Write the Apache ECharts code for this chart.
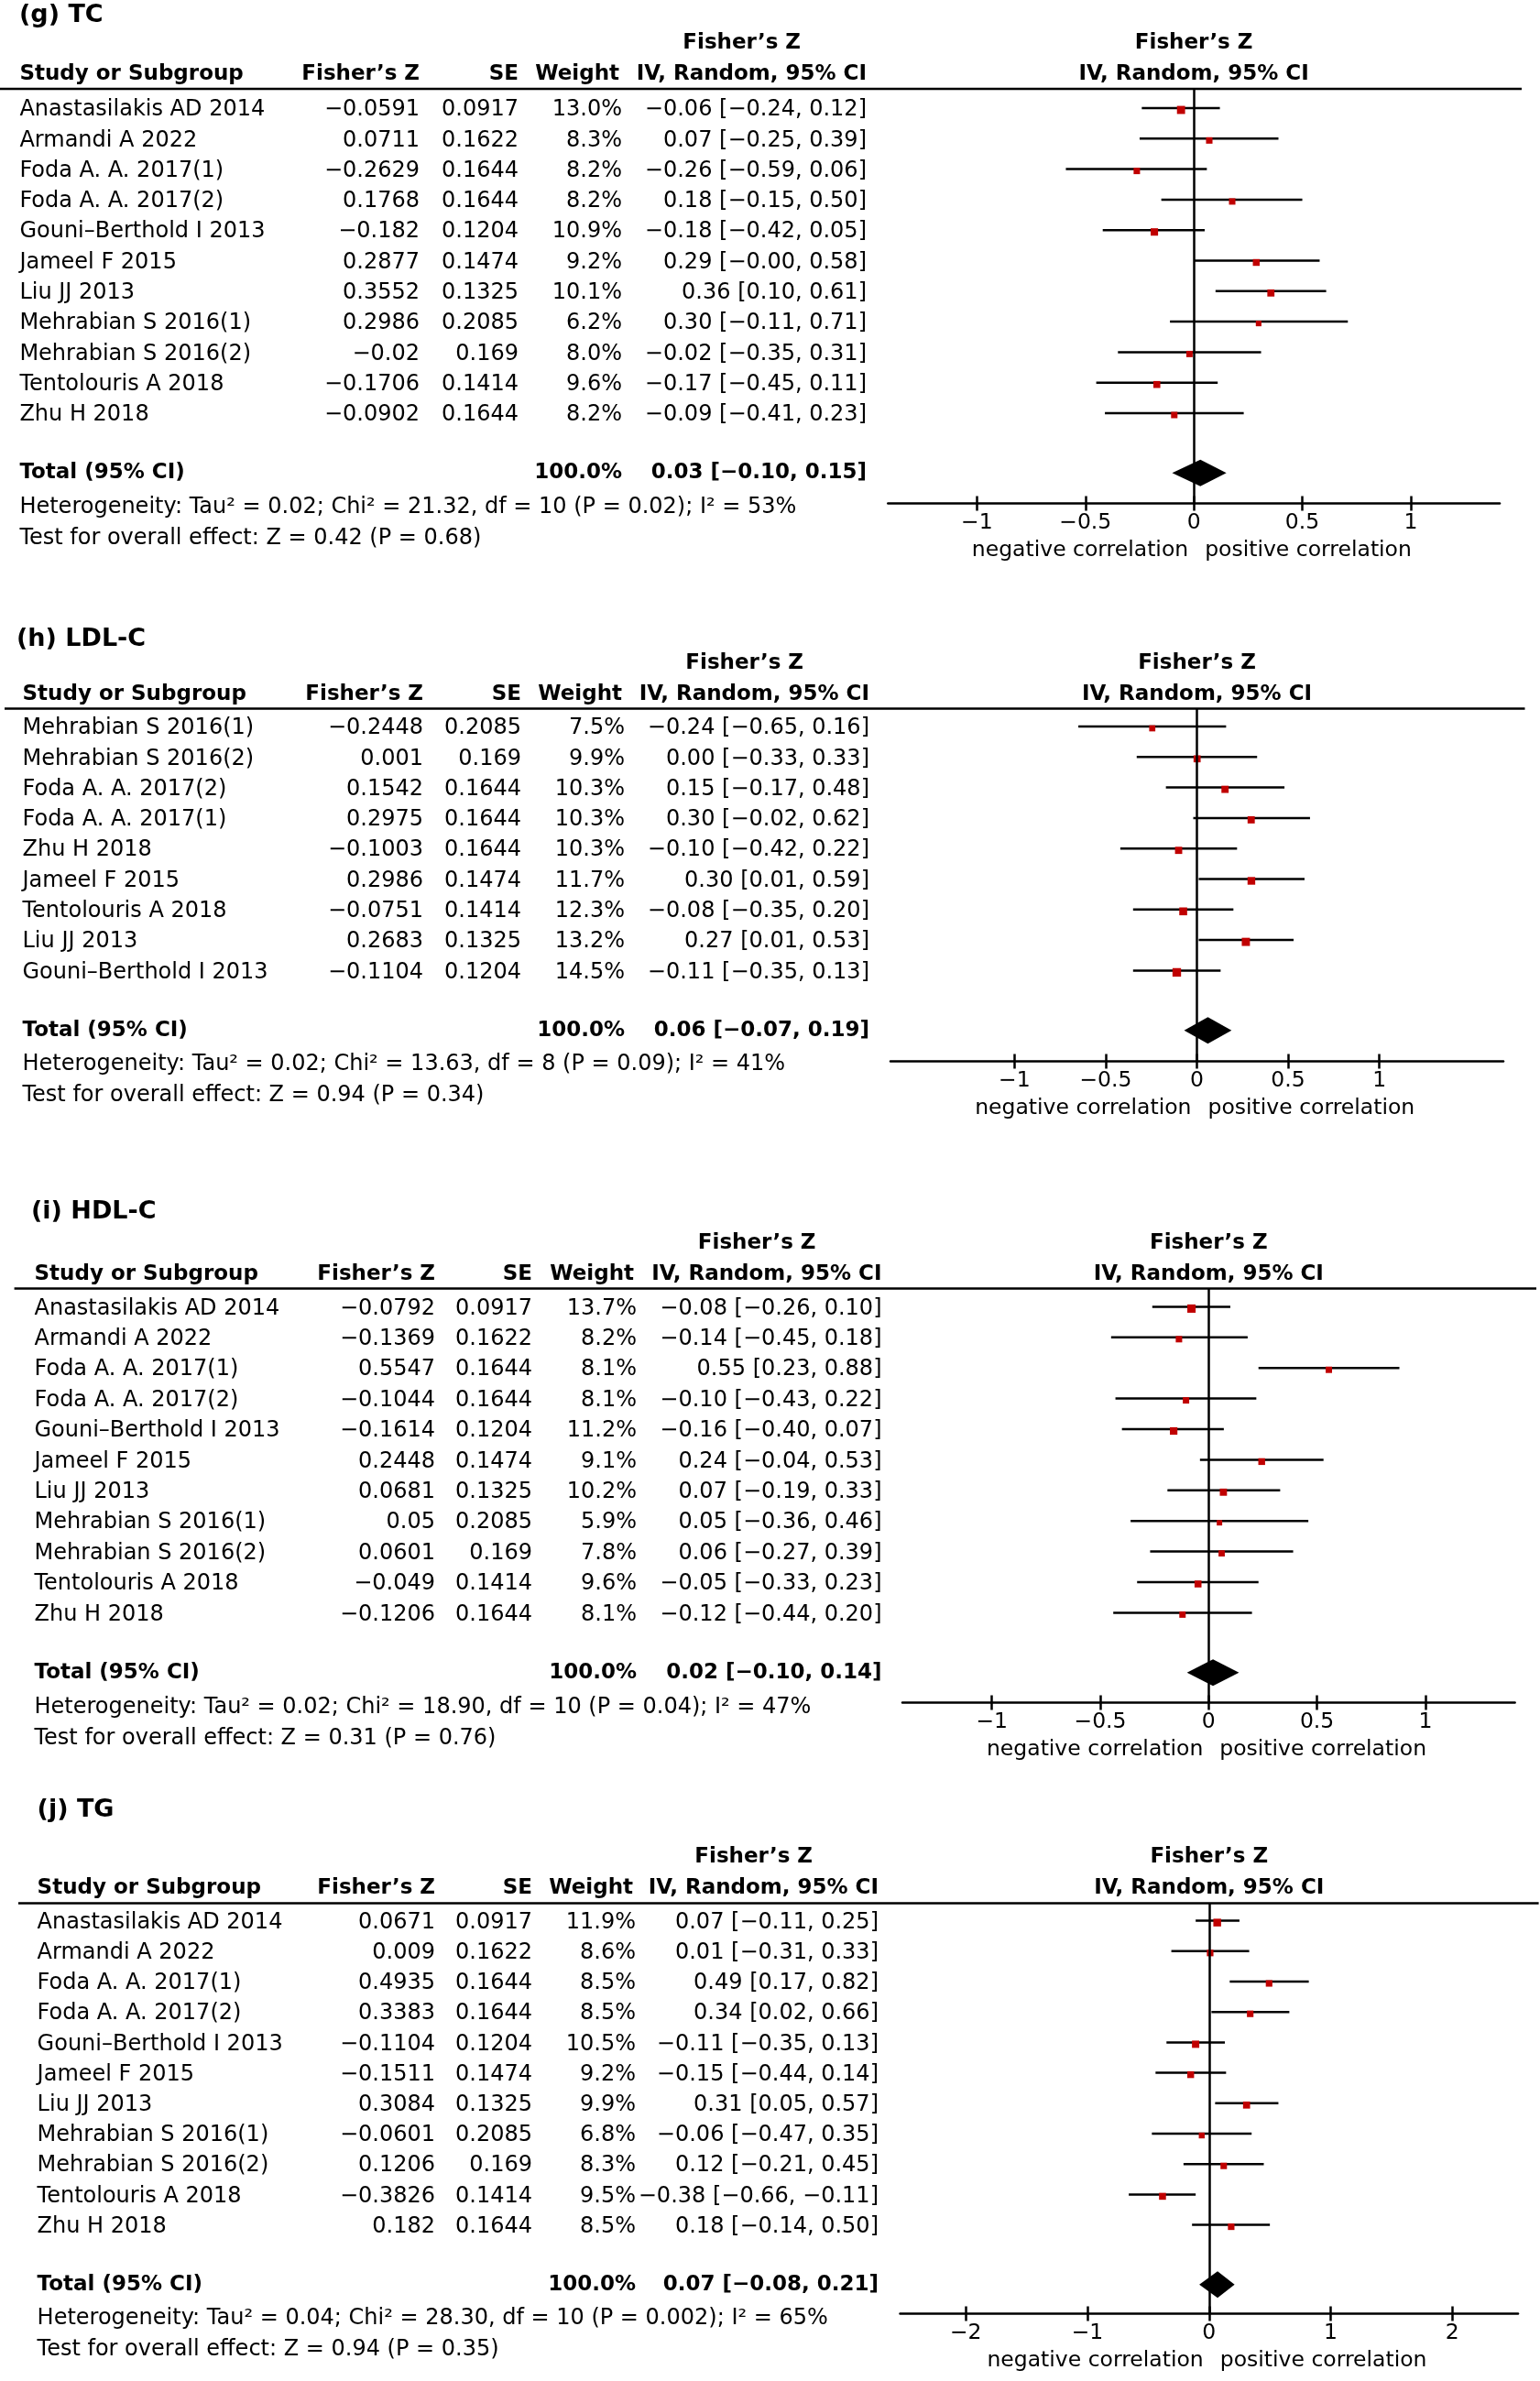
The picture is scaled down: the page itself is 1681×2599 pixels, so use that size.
<!DOCTYPE html>
<html><head><meta charset="utf-8">
<script src="https://cdn.jsdelivr.net/npm/echarts@6/dist/echarts.min.js"></script>
<style>html,body{margin:0;padding:0;background:#fff}#c{width:1681px;height:2599px}</style>
</head><body><div id="c"></div><script>
// ---------- (g) TC ----------
const tcStudies = ['Anastasilakis AD 2014','Armandi A 2022','Foda A. A. 2017(1)','Foda A. A. 2017(2)','Gouni\u2013Berthold I 2013','Jameel F 2015','Liu JJ 2013','Mehrabian S 2016(1)','Mehrabian S 2016(2)','Tentolouris A 2018','Zhu H 2018'];
const tcFisherZ = [-0.0591, 0.0711, -0.2629, 0.1768, -0.182, 0.2877, 0.3552, 0.2986, -0.02, -0.1706, -0.0902];
const tcSE = [0.0917, 0.1622, 0.1644, 0.1644, 0.1204, 0.1474, 0.1325, 0.2085, 0.169, 0.1414, 0.1644];
const tcWeight = [13.0, 8.3, 8.2, 8.2, 10.9, 9.2, 10.1, 6.2, 8.0, 9.6, 8.2];
const tcEst = [-0.06, 0.07, -0.26, 0.18, -0.18, 0.29, 0.36, 0.30, -0.02, -0.17, -0.09];
const tcLow = [-0.24, -0.25, -0.59, -0.15, -0.42, -0.00, 0.10, -0.11, -0.35, -0.45, -0.41];
const tcHigh = [0.12, 0.39, 0.06, 0.50, 0.05, 0.58, 0.61, 0.71, 0.31, 0.11, 0.23];
const tcTotal = [0.03, -0.10, 0.15];
const tcHet = 'Heterogeneity: Tau\u00b2 = 0.02; Chi\u00b2 = 21.32, df = 10 (P = 0.02); I\u00b2 = 53%';
const tcTest = 'Test for overall effect: Z = 0.42 (P = 0.68)';

// ---------- (h) LDL-C ----------
const ldlStudies = ['Mehrabian S 2016(1)','Mehrabian S 2016(2)','Foda A. A. 2017(2)','Foda A. A. 2017(1)','Zhu H 2018','Jameel F 2015','Tentolouris A 2018','Liu JJ 2013','Gouni\u2013Berthold I 2013'];
const ldlFisherZ = [-0.2448, 0.001, 0.1542, 0.2975, -0.1003, 0.2986, -0.0751, 0.2683, -0.1104];
const ldlSE = [0.2085, 0.169, 0.1644, 0.1644, 0.1644, 0.1474, 0.1414, 0.1325, 0.1204];
const ldlWeight = [7.5, 9.9, 10.3, 10.3, 10.3, 11.7, 12.3, 13.2, 14.5];
const ldlEst = [-0.24, 0.00, 0.15, 0.30, -0.10, 0.30, -0.08, 0.27, -0.11];
const ldlLow = [-0.65, -0.33, -0.17, -0.02, -0.42, 0.01, -0.35, 0.01, -0.35];
const ldlHigh = [0.16, 0.33, 0.48, 0.62, 0.22, 0.59, 0.20, 0.53, 0.13];
const ldlTotal = [0.06, -0.07, 0.19];
const ldlHet = 'Heterogeneity: Tau\u00b2 = 0.02; Chi\u00b2 = 13.63, df = 8 (P = 0.09); I\u00b2 = 41%';
const ldlTest = 'Test for overall effect: Z = 0.94 (P = 0.34)';

// ---------- (i) HDL-C ----------
const hdlStudies = tcStudies;
const hdlFisherZ = [-0.0792, -0.1369, 0.5547, -0.1044, -0.1614, 0.2448, 0.0681, 0.05, 0.0601, -0.049, -0.1206];
const hdlSE = [0.0917, 0.1622, 0.1644, 0.1644, 0.1204, 0.1474, 0.1325, 0.2085, 0.169, 0.1414, 0.1644];
const hdlWeight = [13.7, 8.2, 8.1, 8.1, 11.2, 9.1, 10.2, 5.9, 7.8, 9.6, 8.1];
const hdlEst = [-0.08, -0.14, 0.55, -0.10, -0.16, 0.24, 0.07, 0.05, 0.06, -0.05, -0.12];
const hdlLow = [-0.26, -0.45, 0.23, -0.43, -0.40, -0.04, -0.19, -0.36, -0.27, -0.33, -0.44];
const hdlHigh = [0.10, 0.18, 0.88, 0.22, 0.07, 0.53, 0.33, 0.46, 0.39, 0.23, 0.20];
const hdlTotal = [0.02, -0.10, 0.14];
const hdlHet = 'Heterogeneity: Tau\u00b2 = 0.02; Chi\u00b2 = 18.90, df = 10 (P = 0.04); I\u00b2 = 47%';
const hdlTest = 'Test for overall effect: Z = 0.31 (P = 0.76)';

// ---------- (j) TG ----------
const tgStudies = tcStudies;
const tgFisherZ = [0.0671, 0.009, 0.4935, 0.3383, -0.1104, -0.1511, 0.3084, -0.0601, 0.1206, -0.3826, 0.182];
const tgSE = [0.0917, 0.1622, 0.1644, 0.1644, 0.1204, 0.1474, 0.1325, 0.2085, 0.169, 0.1414, 0.1644];
const tgWeight = [11.9, 8.6, 8.5, 8.5, 10.5, 9.2, 9.9, 6.8, 8.3, 9.5, 8.5];
const tgEst = [0.07, 0.01, 0.49, 0.34, -0.11, -0.15, 0.31, -0.06, 0.12, -0.38, 0.18];
const tgLow = [-0.11, -0.31, 0.17, 0.02, -0.35, -0.44, 0.05, -0.47, -0.21, -0.66, -0.14];
const tgHigh = [0.25, 0.33, 0.82, 0.66, 0.13, 0.14, 0.57, 0.35, 0.45, -0.11, 0.50];
const tgTotal = [0.07, -0.08, 0.21];
const tgHet = 'Heterogeneity: Tau\u00b2 = 0.04; Chi\u00b2 = 28.30, df = 10 (P = 0.002); I\u00b2 = 65%';
const tgTest = 'Test for overall effect: Z = 0.94 (P = 0.35)';

const panelTitles = ['(g) TC', '(h) LDL-C', '(i) HDL-C', '(j) TG'];
const ticksSmall = [-1, -0.5, 0, 0.5, 1];
const ticksLarge = [-2, -1, 0, 1, 2];
const headerCols = ['Study or Subgroup', 'Fisher\u2019s Z', 'SE', 'Weight', 'IV, Random, 95% CI'];
const headerTop = 'Fisher\u2019s Z';
const totalLabel = 'Total (95% CI)';
const totalWeight = '100.0%';
const sideLabels = ['negative correlation', 'positive correlation'];

const panels = [
  {studies: tcStudies, fz: tcFisherZ, se: tcSE, w: tcWeight, est: tcEst, lo: tcLow, hi: tcHigh, total: tcTotal, het: tcHet, test: tcTest, ticks: ticksSmall},
  {studies: ldlStudies, fz: ldlFisherZ, se: ldlSE, w: ldlWeight, est: ldlEst, lo: ldlLow, hi: ldlHigh, total: ldlTotal, het: ldlHet, test: ldlTest, ticks: ticksSmall},
  {studies: hdlStudies, fz: hdlFisherZ, se: hdlSE, w: hdlWeight, est: hdlEst, lo: hdlLow, hi: hdlHigh, total: hdlTotal, het: hdlHet, test: hdlTest, ticks: ticksSmall},
  {studies: tgStudies, fz: tgFisherZ, se: tgSE, w: tgWeight, est: tgEst, lo: tgLow, hi: tgHigh, total: tgTotal, het: tgHet, test: tgTest, ticks: ticksLarge}
];

// ---------- layout (pixels) ----------
const layout = [
  {title: [21, 17],     line: [0, 1661],      left: 969.3, right: 1637,   top: 97,     axis: 549.6,  range: 1.41,  row0: 120,    rowH: 33.3, cols: [21.4, 458, 566, 679, 946]},
  {title: [18, 698],    line: [5, 1664.5],    left: 972,   right: 1641,   top: 773.6,  axis: 1158.6, range: 1.68,  row0: 795,    rowH: 33.3, cols: [24.5, 462, 569, 682, 949]},
  {title: [34, 1322.6], line: [15.6, 1677],   left: 985,   right: 1653.6, top: 1406.6, axis: 1858.6, range: 1.413, row0: 1428.4, rowH: 33.4, cols: [37.5, 475, 581, 695, 962.5]},
  {title: [40.6, 1976], line: [20, 1679.6],   left: 982.5, right: 1657,   top: 2077.4, axis: 2525.6, range: 2.54,  row0: 2098.6, rowH: 33.2, cols: [40.6, 475, 581, 694, 959]}
];
const W = 1681, H = 2599;
const FONT = '"DejaVu Sans", "Liberation Sans", sans-serif';
const FS = 24;
const FSA = 23.5;
const FSB = 23;
const RED = '#c00000';
const SQ = 2.45;

function neg(v) { return v < 0 || Object.is(v, -0); }
function fmtRaw(v) { return neg(v) ? '\u2212' + String(Math.abs(v)) : String(v); }
function fmt2(v) { return neg(v) ? '\u2212' + Math.abs(v).toFixed(2) : v.toFixed(2); }
function fmtCI(e, l, h) { return fmt2(e) + ' [' + fmt2(l) + ', ' + fmt2(h) + ']'; }
function fmtTick(v) { return v < 0 ? '\u2212' + String(Math.abs(v)) : String(v); }

const chart = echarts.init(document.getElementById('c'), null, {renderer: 'canvas', width: W, height: H});

const grids = [], xAxes = [], yAxes = [], series = [];
panels.forEach((p, k) => {
  const L = layout[k];
  const n = p.studies.length;
  grids.push({left: L.left, top: L.top, width: L.right - L.left, height: L.axis - L.top, containLabel: false});
  xAxes.push({
    gridIndex: k, type: 'value', min: -L.range, max: L.range, position: 'bottom',
    splitLine: {show: false},
    axisLine: {show: true, onZero: false, lineStyle: {color: '#000', width: 2.5}},
    axisTick: {show: true, inside: false, length: 8, customValues: p.ticks, lineStyle: {color: '#000', width: 2.5}},
    axisLabel: {show: true, customValues: p.ticks, formatter: fmtTick, margin: 9, color: '#000', fontFamily: FONT, fontSize: FSA, lineHeight: 24}
  });
  xAxes.push({
    gridIndex: k, type: 'value', min: -L.range, max: L.range, position: 'bottom',
    splitLine: {show: false}, axisLine: {show: false, onZero: false},
    axisTick: {show: true, inside: true, length: 8, customValues: p.ticks, lineStyle: {color: '#000', width: 2.5}},
    axisLabel: {show: false}
  });
  yAxes.push({
    gridIndex: k, type: 'value', inverse: true,
    min: (L.top - L.row0) / L.rowH, max: (L.axis - L.row0) / L.rowH,
    show: false, splitLine: {show: false}
  });
  const rows = p.studies.map((s, i) => [p.fz[i], i, p.lo[i], p.hi[i], p.w[i]]);
  series.push({
    type: 'custom', xAxisIndex: 2 * k, yAxisIndex: k, clip: false, silent: true,
    data: rows,
    encode: {x: 0, y: 1},
    renderItem: function (params, api) {
      const y = api.value(1);
      const a = api.coord([api.value(2), y]);
      const b = api.coord([api.value(3), y]);
      const c = api.coord([api.value(0), y]);
      const s = SQ * Math.sqrt(api.value(4));
      return {type: 'group', children: [
        {type: 'line', shape: {x1: a[0], y1: a[1] - 2, x2: b[0], y2: b[1] - 2}, style: {stroke: '#000', lineWidth: 2.5}},
        {type: 'rect', shape: {x: c[0] - s / 2, y: c[1] - s / 2, width: s, height: s}, style: {fill: RED}}
      ]};
    },
    markLine: {silent: true, symbol: 'none', label: {show: false},
      lineStyle: {color: '#000', width: 2.5, type: 'solid'}, data: [{xAxis: 0}]},
    z: 3
  });
  series.push({
    type: 'custom', xAxisIndex: 2 * k, yAxisIndex: k, clip: false, silent: true,
    data: [[p.total[0], n + 0.9, p.total[1], p.total[2]]],
    encode: {x: 0, y: 1},
    renderItem: function (params, api) {
      const y = api.value(1);
      const l = api.coord([api.value(2), y]);
      const r = api.coord([api.value(3), y]);
      const c = api.coord([api.value(0), y]);
      const hh = 14.5;
      return {type: 'polygon', shape: {points: [[l[0], l[1]], [c[0], c[1] - hh], [r[0], r[1]], [c[0], c[1] + hh]]}, style: {fill: '#000'}};
    },
    z: 4
  });
});

chart.setOption({
  animation: false,
  backgroundColor: '#fff',
  grid: grids, xAxis: xAxes, yAxis: yAxes, series: series
});

// ---------- table text ----------
const g = [];
function txt(text, x, y, align, bold, size, family) {
  g.push({type: 'text', x: x, y: y, silent: true, z: 10,
    style: {text: text, fill: '#000', align: align, verticalAlign: 'middle', textAlign: align, textVerticalAlign: 'middle',
      font: (bold ? 'bold ' : '') + (size || (bold ? FSB : FS)) + 'px ' + (family || FONT)}});
}
panels.forEach((p, k) => {
  const L = layout[k];
  const C = L.cols;
  const n = p.studies.length;
  const rowY = i => chart.convertToPixel({yAxisIndex: k}, i);
  const zeroX = chart.convertToPixel({xAxisIndex: 2 * k}, 0);
  const midX = (L.left + L.right) / 2;
  txt(panelTitles[k], L.title[0], L.title[1], 'left', true, 27);
  // header
  const h1 = L.top - 50, h2 = L.top - 16;
  txt(headerTop, C[4] - 72, h1, 'right', true);
  txt(headerCols[0], C[0], h2, 'left', true);
  txt(headerCols[1], C[1], h2, 'right', true);
  txt(headerCols[2], C[2], h2, 'right', true);
  txt(headerCols[3], C[3] - 3, h2, 'right', true);
  txt(headerCols[4], C[4], h2, 'right', true);
  txt(headerTop, midX, h1, 'center', true);
  txt(headerCols[4], midX, h2, 'center', true);
  g.push({type: 'line', silent: true, z: 10, shape: {x1: L.line[0], y1: L.top, x2: L.line[1], y2: L.top}, style: {stroke: '#000', lineWidth: 2.5}});
  // rows
  p.studies.forEach((s, i) => {
    const y = rowY(i);
    txt(s, C[0], y, 'left', false);
    txt(fmtRaw(p.fz[i]), C[1], y, 'right', false);
    txt(String(p.se[i]), C[2], y, 'right', false);
    txt(p.w[i].toFixed(1) + '%', C[3], y, 'right', false);
    txt(fmtCI(p.est[i], p.lo[i], p.hi[i]), C[4], y, 'right', false);
  });
  const ty = rowY(n + 0.9);
  txt(totalLabel, C[0], ty, 'left', true);
  txt(totalWeight, C[3], ty, 'right', true);
  txt(fmtCI(p.total[0], p.total[1], p.total[2]), C[4], ty, 'right', true);
  txt(p.het, C[0], ty + 37.5, 'left', false);
  txt(p.test, C[0], ty + 71.5, 'left', false);
  // side labels
  txt(sideLabels[0], zeroX - 6, L.axis + 51, 'right', false, FSA);
  txt(sideLabels[1], zeroX + 12, L.axis + 51, 'left', false, FSA);
});
chart.setOption({graphic: {elements: g}});
</script></body></html>
